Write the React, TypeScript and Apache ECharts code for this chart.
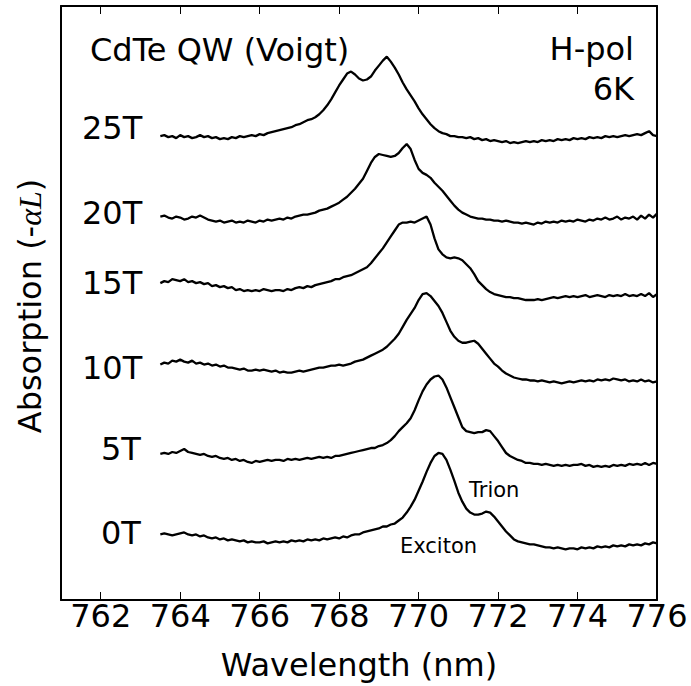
import React, { useEffect, useRef } from "react";
import * as echarts from "echarts";

// Wavelength grid (nm), 0.1 nm steps from 763.5 to 776.0
const wavelengths: number[] = Array.from({ length: 126 }, (_, k) => Math.round((763.5 + 0.1 * k) * 10) / 10);

const xTicks = [762, 764, 766, 768, 770, 772, 774, 776];

// Absorption traces (arbitrary units, offset for clarity)
const t0T = [66,67,66,65,66,67,68,66,65,66, 64,65,63,62,63,61,62,60,61,60, 59,60,58,59,58,58,59,57,58,59, 58,59,58,60,59,60,59,61,60,61, 60,62,61,62,63,62,64,63,65,66, 66,68,69,70,71,72,74,74,76,77, 80,83,88,94,101,110,119,129,138,145, 148,147,141,131,120,108,99,92,88,86, 86,87,89,88,84,79,74,69,65,61, 59,58,57,56,56,55,54,53,53,52, 53,52,51,52,52,51,53,52,53,52, 54,53,54,53,55,54,55,54,56,55, 56,55,57,56,58,57];
const t5T = [147,148,147,149,148,150,152,149,148,147, 146,147,145,144,145,143,142,143,141,142, 140,141,139,138,140,139,140,141,140,141, 141,140,142,141,142,141,142,143,142,143, 144,143,144,143,145,145,146,147,148,149, 150,151,152,153,153,155,156,158,161,165, 170,174,178,183,191,201,210,217,222,225, 226,222,214,204,194,184,174,170,169,168, 169,169,171,170,165,160,154,148,145,143, 141,140,138,138,137,137,136,137,136,135, 136,135,136,135,136,136,137,135,136,134, 135,134,135,134,136,135,136,135,137,136, 137,136,138,136,138,137];
const t10T = [237,239,238,241,240,242,240,239,241,238, 239,237,238,236,237,235,236,234,234,233, 232,233,231,231,232,231,232,231,230,231, 229,230,229,229,230,231,230,231,232,233, 234,234,235,236,236,237,236,237,238,240, 241,242,244,246,248,250,252,255,259,263, 268,275,282,288,294,302,308,309,306,301, 296,289,280,271,265,261,259,259,260,261, 258,253,248,243,238,235,231,228,226,224, 223,222,222,221,221,220,221,220,219,220, 219,218,219,220,219,220,221,220,221,220, 222,221,222,221,223,222,221,222,220,221, 220,222,220,221,219,220];
const t15T = [319,321,320,323,322,321,323,320,321,319, 320,318,319,316,317,315,316,314,315,312, 313,311,312,311,312,311,313,312,311,312, 312,311,313,312,314,315,314,316,315,317, 318,319,320,321,323,323,325,326,327,329, 331,333,335,339,344,349,354,360,366,372, 378,380,380,381,380,382,384,386,378,364, 353,348,345,344,345,344,342,338,334,328, 321,317,313,310,308,307,306,305,305,304, 304,303,302,302,302,303,302,303,304,305, 304,305,306,305,306,305,306,307,305,306, 307,306,305,307,306,307,306,308,306,307, 306,308,306,309,305,308];
const t20T = [386,387,385,384,386,385,383,384,386,385, 387,385,383,382,381,382,380,381,382,380, 381,380,382,381,380,382,381,383,382,383, 384,383,385,384,386,387,388,388,389,390, 392,393,394,396,398,400,403,406,410,414, 419,424,432,440,446,449,448,447,446,447, 450,455,459,454,443,434,430,428,425,420, 416,412,407,402,397,393,390,388,386,385, 384,384,383,383,382,382,381,382,381,380, 380,379,380,379,378,380,379,381,380,381, 380,382,381,382,381,383,382,381,383,382, 384,383,385,383,384,386,383,385,384,386, 383,387,384,388,385,389];
const t25T = [467,468,466,467,465,468,466,467,465,466, 468,466,467,465,466,464,465,464,466,465, 467,466,467,468,467,469,468,470,471,472, 473,474,475,476,478,479,481,483,484,486, 489,493,498,504,511,518,524,530,532,529, 525,523,524,527,533,538,543,547,542,536, 529,521,514,508,502,495,489,484,479,475, 472,470,469,467,467,466,466,465,466,464, 465,463,464,462,463,462,461,462,460,461, 460,461,462,461,462,461,463,462,463,462, 464,463,464,463,465,464,465,464,466,465, 466,465,467,466,467,466,467,468,467,468, 469,468,470,472,468,467];

const fieldLabels = ["0T", "5T", "10T", "15T", "20T", "25T"];
const traces = [t0T, t5T, t10T, t15T, t20T, t25T];

const FONT = "DejaVu Sans";

export default function App() {
  const ref = useRef<HTMLDivElement>(null);

  useEffect(() => {
    if (!ref.current) return;
    const chart = echarts.init(ref.current, null, { renderer: "svg" });

    const axisLine = { show: true, onZero: false, lineStyle: { color: "#000", width: 2 } };
    const labelPos: { x: number; y: number }[] = [
      { x: 101, y: 533 },
      { x: 101, y: 449 },
      { x: 82, y: 368 },
      { x: 82, y: 283 },
      { x: 82, y: 213 },
      { x: 82, y: 128 },
    ];

    chart.setOption({
      animation: false,
      backgroundColor: "#ffffff",
      grid: { left: 61, top: 6, width: 596, height: 598 },
      xAxis: [
        {
          type: "value",
          min: 761,
          max: 776,
          position: "bottom",
          axisLine,
          axisTick: { show: true, inside: true, length: 8, customValues: xTicks, lineStyle: { color: "#000", width: 1 } },
          axisLabel: { show: true, customValues: xTicks, fontSize: 32, fontFamily: FONT, color: "#000", margin: 0 },
          splitLine: { show: false },
          name: "Wavelength (nm)",
          nameLocation: "middle",
          nameGap: 49,
          nameTextStyle: { fontSize: 32, fontFamily: FONT, color: "#000" },
        },
        {
          type: "value",
          min: 761,
          max: 776,
          position: "top",
          axisLine,
          axisTick: { show: true, inside: true, length: 8, customValues: xTicks, lineStyle: { color: "#000", width: 1 } },
          axisLabel: { show: false },
          splitLine: { show: false },
        },
      ],
      yAxis: [
        {
          type: "value",
          min: 0,
          max: 598,
          position: "left",
          axisLine,
          axisTick: { show: false },
          axisLabel: { show: false },
          splitLine: { show: false },
        },
        {
          type: "value",
          min: 0,
          max: 598,
          position: "right",
          axisLine,
          axisTick: { show: false },
          axisLabel: { show: false },
          splitLine: { show: false },
        },
      ],
      series: traces.map((arr, i) => ({
        name: fieldLabels[i],
        type: "line",
        xAxisIndex: 0,
        yAxisIndex: 0,
        showSymbol: false,
        symbol: "none",
        data: wavelengths.map((w, k) => [w, arr[k]]),
        lineStyle: { color: "#000", width: 2.3 },
        emphasis: { disabled: true },
      })),
      graphic: [
        ...fieldLabels.map((t, i) => ({
          type: "text",
          left: labelPos[i].x,
          top: labelPos[i].y - 16,
          style: { text: t, fontSize: 32, fontFamily: FONT, fill: "#000", textVerticalAlign: "top" },
        })),
        {
          type: "text",
          x: 90,
          y: 50,
          style: { text: "CdTe QW (Voigt)", fontSize: 32, fontFamily: FONT, fill: "#000", textAlign: "left", textVerticalAlign: "middle" },
        },
        {
          type: "text",
          x: 634,
          y: 49,
          style: { text: "H-pol", fontSize: 32, fontFamily: FONT, fill: "#000", textAlign: "right", textVerticalAlign: "middle" },
        },
        {
          type: "text",
          x: 634,
          y: 89,
          style: { text: "6K", fontSize: 32, fontFamily: FONT, fill: "#000", textAlign: "right", textVerticalAlign: "middle" },
        },
        {
          type: "text",
          x: 469,
          y: 490,
          style: { text: "Trion", fontSize: 21, fontFamily: FONT, fill: "#000", textAlign: "left", textVerticalAlign: "middle" },
        },
        {
          type: "text",
          x: 400,
          y: 546,
          style: { text: "Exciton", fontSize: 21, fontFamily: FONT, fill: "#000", textAlign: "left", textVerticalAlign: "middle" },
        },
        {
          type: "text",
          x: 30,
          y: 306,
          rotation: Math.PI / 2,
          style: {
            text: "{a|Absorption (-}{b|αL}{a|)}",
            textAlign: "center",
            textVerticalAlign: "middle",
            fill: "#000",
            rich: {
              a: { fontSize: 32, fontFamily: FONT, fill: "#000" },
              b: { fontSize: 32, fontFamily: "Liberation Serif", fontStyle: "italic", fill: "#000" },
            },
          },
        },
      ],
    });

    return () => chart.dispose();
  }, []);

  return <div ref={ref} style={{ position: "fixed", left: 0, top: 0, width: 691, height: 686 }} />;
}
